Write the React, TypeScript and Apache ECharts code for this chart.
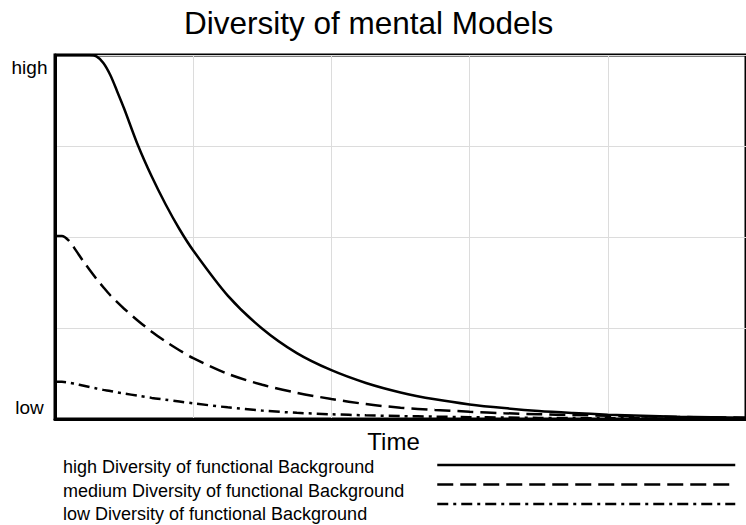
import React, { useEffect, useRef } from "react";
import * as echarts from "echarts";

const seriesNames = [
  "high Diversity of functional Background",
  "medium Diversity of functional Background",
  "low Diversity of functional Background",
];

const timePoints = [0, 1, 2, 3, 4, 5, 6, 7, 8, 9, 10, 12, 14, 16, 18, 20, 25, 30, 35, 40, 45, 50, 55, 60, 65, 70, 75, 80, 85, 90, 95, 100];

const highValues = [100, 100, 100, 100, 100, 100, 99.6, 97.8, 94.5, 90, 85.3, 75.2, 66.6, 59, 52.2, 46.3, 33.9, 24.8, 18.1, 13.4, 9.9, 7.3, 5.4, 4.0, 3.0, 2.2, 1.65, 1.2, 0.9, 0.65, 0.5, 0.35];

const mediumValues = [50.3, 50.3, 49, 46.4, 43.6, 41, 38.5, 36.2, 34, 32.1, 30.3, 27, 24, 21.3, 18.9, 16.7, 12.4, 9.4, 7.2, 5.5, 4.1, 3.1, 2.5, 2, 1.6, 1.3, 1.1, 0.9, 0.7, 0.55, 0.45, 0.35];

const lowValues = [10.2, 10.2, 10, 9.6, 9.2, 8.8, 8.4, 8.0, 7.7, 7.3, 7, 6.4, 5.8, 5.3, 4.8, 4.3, 3.2, 2.3, 1.7, 1.3, 1.0, 0.8, 0.65, 0.5, 0.4, 0.3, 0.25, 0.2, 0.17, 0.15, 0.12, 0.1];

const yTickValues = [0, 100];
const yTickLabels = ["low", "high"];

const titleText = "Diversity of mental Models";
const xAxisName = "Time";

const FONT = "'Liberation Sans', Arial, sans-serif";

export default function App() {
  const ref = useRef<HTMLDivElement>(null);

  useEffect(() => {
    if (!ref.current) return;
    const chart = echarts.init(ref.current, null, { renderer: "svg" });

    const toPairs = (vals: number[]) => timePoints.map((t, i) => [t, vals[i]]);
    const dashes: any[] = ["solid", [16, 7], [11, 5, 3, 5]];
    const valueSets = [highValues, mediumValues, lowValues];

    const series = seriesNames.map((name, i) => ({
      name,
      type: "line",
      data: toPairs(valueSets[i]),
      symbol: "none",
      smooth: 0.3,
      lineStyle: { color: "#000", width: 2.5, type: dashes[i] },
      itemStyle: { color: "#000" },
    }));

    const legendCommon = {
      data: seriesNames,
      orient: "vertical",
      top: 457,
      height: 90,
      padding: 0,
      itemGap: 3.5,
      itemHeight: 20,
      selectedMode: false,
      textStyle: { fontSize: 18, lineHeight: 20, color: "#000", fontFamily: FONT },
    };

    chart.setOption({
      animation: false,
      backgroundColor: "#fff",
      textStyle: { fontFamily: FONT },
      title: {
        text: titleText,
        left: 184,
        top: 7,
        padding: 0,
        textStyle: { fontSize: 31.5, fontWeight: "normal", color: "#000", fontFamily: FONT },
      },
      grid: {
        left: 55,
        top: 55,
        width: 701.5,
        height: 364,
        show: true,
        borderColor: "#000",
        borderWidth: 3,
        backgroundColor: "transparent",
      },
      xAxis: {
        type: "value",
        min: 0,
        max: 100,
        interval: 20,
        name: xAxisName,
        nameLocation: "middle",
        nameGap: 10,
        nameTextStyle: { fontSize: 24, color: "#000", fontFamily: FONT, padding: [0, 14, 0, 0] },
        axisLine: { show: true, lineStyle: { color: "#000", width: 3 } },
        axisTick: { show: false },
        axisLabel: { show: false },
        splitLine: { show: true, lineStyle: { color: "#dcdcdc", width: 1 } },
      },
      yAxis: {
        type: "value",
        min: 0,
        max: 100,
        interval: 25,
        axisLine: { show: true, lineStyle: { color: "#000", width: 3 } },
        axisTick: { show: false },
        splitLine: { show: true, lineStyle: { color: "#dcdcdc", width: 1 } },
        axisLabel: {
          show: true,
          margin: 25.5,
          align: "center",
          color: "#000",
          fontSize: 19,
          fontFamily: FONT,
          formatter: (v: number) => {
            const idx = yTickValues.indexOf(v);
            if (idx < 0) return "";
            return idx === 1 ? `{h|${yTickLabels[idx]}}` : `{l|${yTickLabels[idx]}}`;
          },
          rich: {
            h: { fontSize: 19, color: "#000", fontFamily: FONT, padding: [25, 0, 0, 0] },
            l: { fontSize: 19, color: "#000", fontFamily: FONT, padding: [0, 0, 23, 0] },
          },
        },
      },
      legend: [
        {
          ...legendCommon,
          id: "legendText",
          left: 58,
          itemWidth: 0,
          icon: "none",
        },
        {
          ...legendCommon,
          id: "legendKeys",
          left: 436,
          itemWidth: 298,
          formatter: () => "",
          itemStyle: { color: "transparent", borderWidth: 0, opacity: 0 },
          lineStyle: { width: 2.5, color: "#000" },
        },
      ],
      series,
    });

    return () => {
      chart.dispose();
    };
  }, []);

  return (
    <div
      ref={ref}
      style={{ position: "fixed", left: 0, top: 0, width: 746, height: 525, background: "#fff" }}
    />
  );
}
